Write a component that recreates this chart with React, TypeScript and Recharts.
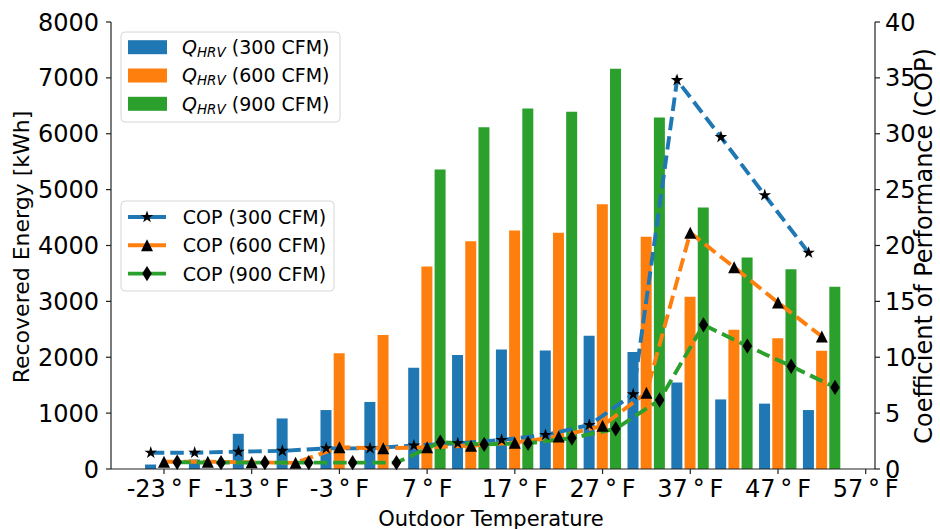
import React from 'react';
import { ComposedChart, Bar, Line, XAxis, YAxis } from 'recharts';

// Outdoor temperature bins (°F)
const temps = [-23, -18, -13, -8, -3, 2, 7, 12, 17, 22, 27, 32, 37, 42, 47, 52];

// Recovered energy [kWh]
const q300 = [80, 170, 630, 905, 1055, 1200, 1810, 2040, 2140, 2120, 2385, 2095, 1550, 1245, 1170, 1055];
const q600 = [0, 0, 0, 0, 2070, 2400, 3625, 4075, 4270, 4230, 4740, 4155, 3085, 2490, 2340, 2115];
const q900 = [0, 0, 0, 0, 0, 0, 5360, 6115, 6450, 6395, 7165, 6290, 4680, 3785, 3575, 3260];

// Coefficient of performance
const cop300 = [1.46, 1.46, 1.55, 1.62, 1.85, 1.85, 2.1, 2.3, 2.6, 3.04, 3.94, 6.68, 34.8, 29.7, 24.5, 19.35];
const cop600 = [0.65, 0.65, 0.6, 0.55, 1.94, 1.85, 1.95, 2.09, 2.36, 2.9, 3.88, 6.83, 21.15, 18.05, 14.9, 11.85];
const cop900 = [0.6, 0.57, 0.57, 0.57, 0.57, 0.57, 2.4, 2.2, 2.3, 2.77, 3.6, 6.17, 12.9, 11.0, 9.2, 7.3];

const xTicks = [-23, -13, -3, 7, 17, 27, 37, 47, 57];
const leftTicks = [0, 1000, 2000, 3000, 4000, 5000, 6000, 7000, 8000];
const rightTicks = [0, 5, 10, 15, 20, 25, 30, 35, 40];

const C_BLUE = '#1f77b4';
const C_ORANGE = '#ff7f0e';
const C_GREEN = '#2ca02c';
const FONT = 'DejaVu Sans, Verdana, sans-serif';
const X_DOMAIN: [number, number] = [-29.04, 58.06];
const SHIFT = 1.505; // bar pitch in degrees

const barData = temps.map((t, i) => ({ x: t, q300: q300[i], q600: q600[i], q900: q900[i] }));
const line300 = temps.map((t, i) => ({ x: t - SHIFT, cop: cop300[i] }));
const line600 = temps.map((t, i) => ({ x: t, cop: cop600[i] }));
const line900 = temps.map((t, i) => ({ x: t + SHIFT, cop: cop900[i] }));

function starPoints(cx: number, cy: number, R: number) {
  const r = R * 0.382;
  const pts: string[] = [];
  for (let k = 0; k < 10; k++) {
    const rad = k % 2 === 0 ? R : r;
    const a = -Math.PI / 2 + (k * Math.PI) / 5;
    pts.push(`${cx + rad * Math.cos(a)},${cy + rad * Math.sin(a)}`);
  }
  return pts.join(' ');
}
const Star = ({ cx, cy }: { cx: number; cy: number }) => (
  <polygon points={starPoints(cx, cy, 6.6)} fill="#000" />
);
const Tri = ({ cx, cy }: { cx: number; cy: number }) => (
  <polygon points={`${cx},${cy - 6} ${cx - 6},${cy + 6} ${cx + 6},${cy + 6}`} fill="#000" />
);
const Dia = ({ cx, cy }: { cx: number; cy: number }) => (
  <polygon points={`${cx},${cy - 7.7} ${cx + 4.8},${cy} ${cx},${cy + 7.7} ${cx - 4.8},${cy}`} fill="#000" />
);

const starDot = (p: any) => (p.cx == null ? <g key={`s${p.index}`} /> : <g key={`s${p.index}`}><Star cx={p.cx} cy={p.cy} /></g>);
const triDot = (p: any) => (p.cx == null ? <g key={`t${p.index}`} /> : <g key={`t${p.index}`}><Tri cx={p.cx} cy={p.cy} /></g>);
const diaDot = (p: any) => (p.cx == null ? <g key={`d${p.index}`} /> : <g key={`d${p.index}`}><Dia cx={p.cx} cy={p.cy} /></g>);

const tickStyle = { fill: '#000', fontSize: 24, fontFamily: FONT };
const axisStroke = { stroke: '#222', strokeWidth: 1.2 };

const barLegend = [
  { label: '(300 CFM)', color: C_BLUE },
  { label: '(600 CFM)', color: C_ORANGE },
  { label: '(900 CFM)', color: C_GREEN },
];
const copLegend = [
  { label: 'COP (300 CFM)', color: C_BLUE, marker: 'star' },
  { label: 'COP (600 CFM)', color: C_ORANGE, marker: 'tri' },
  { label: 'COP (900 CFM)', color: C_GREEN, marker: 'dia' },
];

export default function App() {
  return (
    <div style={{ position: 'absolute', left: 0, top: 0, width: 940, height: 529, background: '#fff', fontFamily: FONT }}>
      <ComposedChart
        width={940}
        height={529}
        data={barData}
        margin={{ top: 22, right: 0, bottom: 0, left: 0 }}
        barGap={2.2}
        barCategoryGap={0}
      >
        <XAxis
          xAxisId="bar"
          dataKey="x"
          type="number"
          domain={X_DOMAIN}
          allowDataOverflow
          ticks={xTicks}
          interval={0}
          tickFormatter={(v: number) => `${v}\u2009°\u2009F`}
          height={60}
          tickSize={5}
          tickMargin={6}
          tick={tickStyle}
          axisLine={axisStroke}
          tickLine={axisStroke}
        />
        <XAxis
          xAxisId="cop"
          dataKey="x"
          type="number"
          orientation="top"
          domain={X_DOMAIN}
          allowDataOverflow
          height={0}
          tick={false}
          tickLine={false}
          axisLine={axisStroke}
        />
        <YAxis
          yAxisId="left"
          type="number"
          domain={[0, 8000]}
          ticks={leftTicks}
          interval={0}
          width={111}
          tickSize={5}
          tickMargin={7}
          tick={tickStyle}
          axisLine={axisStroke}
          tickLine={axisStroke}
        />
        <YAxis
          yAxisId="right"
          orientation="right"
          type="number"
          domain={[0, 40]}
          ticks={rightTicks}
          interval={0}
          width={65}
          tickSize={5}
          tickMargin={5}
          tick={tickStyle}
          axisLine={axisStroke}
          tickLine={axisStroke}
        />
        <Bar xAxisId="bar" yAxisId="left" dataKey="q300" fill={C_BLUE} barSize={11} isAnimationActive={false} />
        <Bar xAxisId="bar" yAxisId="left" dataKey="q600" fill={C_ORANGE} barSize={11} isAnimationActive={false} />
        <Bar xAxisId="bar" yAxisId="left" dataKey="q900" fill={C_GREEN} barSize={11} isAnimationActive={false} />
        <Line
          xAxisId="cop"
          yAxisId="right"
          data={line300}
          dataKey="cop"
          stroke={C_BLUE}
          strokeWidth={3.9}
          strokeDasharray="13.5 6"
          dot={starDot}
          activeDot={false}
          isAnimationActive={false}
        />
        <Line
          xAxisId="cop"
          yAxisId="right"
          data={line600}
          dataKey="cop"
          stroke={C_ORANGE}
          strokeWidth={3.9}
          strokeDasharray="13.5 6"
          dot={triDot}
          activeDot={false}
          isAnimationActive={false}
        />
        <Line
          xAxisId="cop"
          yAxisId="right"
          data={line900}
          dataKey="cop"
          stroke={C_GREEN}
          strokeWidth={3.9}
          strokeDasharray="13.5 6"
          dot={diaDot}
          activeDot={false}
          isAnimationActive={false}
        />
      </ComposedChart>

      <svg
        width={940}
        height={529}
        style={{ position: 'absolute', left: 0, top: 0, pointerEvents: 'none' }}
        fontFamily={FONT}
      >
        {/* axis titles */}
        <text x={491} y={525.5} textAnchor="middle" fontSize={21} fill="#000">Outdoor Temperature</text>
        <text transform="translate(29,247) rotate(-90)" textAnchor="middle" fontSize={22} fill="#000">Recovered Energy [kWh]</text>
        <text transform="translate(932,246) rotate(-90)" textAnchor="middle" fontSize={24} fill="#000">Coefficient of Performance (COP)</text>

        {/* bar legend */}
        <rect x={121} y={32} width={219} height={90} rx={4} fill="rgba(255,255,255,0.8)" stroke="#d6d6d6" strokeWidth={1} />
        {barLegend.map((e, i) => {
          const cy = 47.2 + i * 28.3;
          return (
            <g key={e.label}>
              <rect x={128} y={cy - 7} width={39} height={14} fill={e.color} />
              <text x={182} y={cy + 6.9} fontSize={19} fill="#000">
                <tspan fontStyle="italic">Q</tspan>
                <tspan fontStyle="italic" fontSize={13.5} dy={3}>HRV</tspan>
                <tspan dy={-3}>{' ' + e.label}</tspan>
              </text>
            </g>
          );
        })}

        {/* COP legend */}
        <rect x={121} y={201} width={213} height={90} rx={4} fill="rgba(255,255,255,0.8)" stroke="#d6d6d6" strokeWidth={1} />
        {copLegend.map((e, i) => {
          const cy = 217 + i * 28.3;
          return (
            <g key={e.label}>
              <line x1={128} x2={166} y1={cy} y2={cy} stroke={e.color} strokeWidth={3.9} />
              {e.marker === 'star' && <Star cx={147} cy={cy} />}
              {e.marker === 'tri' && <Tri cx={147} cy={cy} />}
              {e.marker === 'dia' && <Dia cx={147} cy={cy} />}
              <text x={182.7} y={cy + 6.9} fontSize={19} fill="#000">{e.label}</text>
            </g>
          );
        })}
      </svg>
    </div>
  );
}
